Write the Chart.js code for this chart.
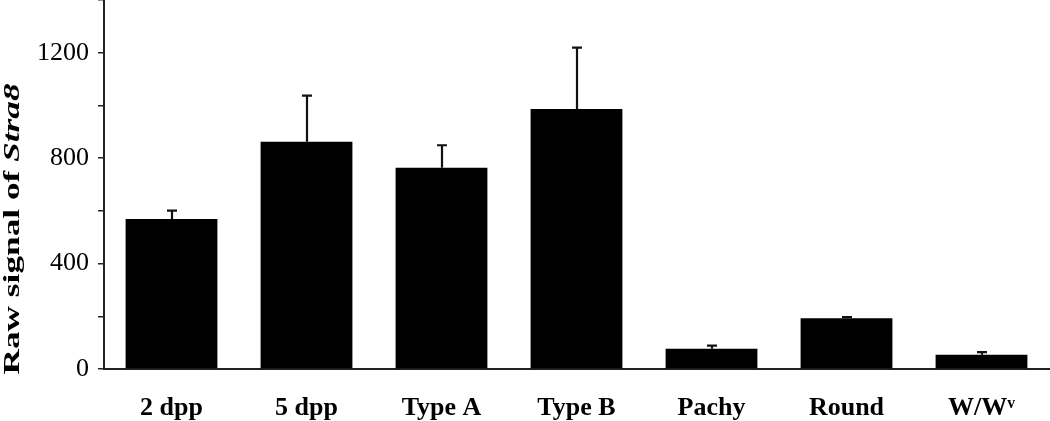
<!DOCTYPE html>
<html>
<head>
<meta charset="utf-8">
<script src="https://cdn.jsdelivr.net/npm/chart.js@4.4.1/dist/chart.umd.min.js"></script>
<style>
  html, body { margin: 0; padding: 0; background: #fff; }
  #wrap { width: 1050px; height: 421px; }
</style>
</head>
<body>
<div id="wrap"><canvas id="c" width="1050" height="421"></canvas></div>
<script>
const categories = ['2 dpp', '5 dpp', 'Type A', 'Type B', 'Pachy', 'Round', 'W/Wᵛ'];
const signalValues = [569, 862, 764, 986, 77, 193, 54];
const signalErrors = [32, 175, 85, 233, 12, 4, 10];
const yTickLabels = [0, 400, 800, 1200];
const yTitleMain = 'Raw signal of ';
const yTitleGene = 'Stra8';

const errorBarPlugin = {
  id: 'errorBars',
  afterDatasetsDraw(chart) {
    const ctx = chart.ctx;
    const meta = chart.getDatasetMeta(0);
    const ys = chart.scales.y;
    ctx.save();
    ctx.strokeStyle = '#111';
    ctx.lineWidth = 2.2;
    meta.data.forEach((bar, i) => {
      const top = ys.getPixelForValue(signalValues[i] + signalErrors[i]);
      const x = Math.round(bar.x);
      ctx.beginPath();
      ctx.moveTo(x, bar.y);
      ctx.lineTo(x, top);
      ctx.moveTo(x - 5, top);
      ctx.lineTo(x + 5, top);
      ctx.stroke();
    });
    ctx.restore();
  }
};

const yTitlePlugin = {
  id: 'yTitle',
  afterDraw(chart) {
    const ctx = chart.ctx;
    ctx.save();
    ctx.translate(13, 229);
    ctx.rotate(-Math.PI / 2);
    ctx.scale(1.47, 1);
    const f1 = 'bold 24px "Liberation Serif", "Times New Roman", serif';
    const f2 = 'italic bold 24px "Liberation Serif", "Times New Roman", serif';
    ctx.font = f1;
    const w1 = ctx.measureText(yTitleMain).width;
    ctx.font = f2;
    const w2 = ctx.measureText(yTitleGene).width;
    const start = -(w1 + w2) / 2;
    ctx.fillStyle = '#000';
    ctx.textBaseline = 'middle';
    ctx.textAlign = 'left';
    ctx.font = f1;
    ctx.fillText(yTitleMain, start, 0);
    ctx.font = f2;
    ctx.fillText(yTitleGene, start + w1, 0);
    ctx.restore();
  }
};

new Chart(document.getElementById('c'), {
  type: 'bar',
  data: {
    labels: categories,
    datasets: [{
      data: signalValues,
      backgroundColor: '#000',
      borderWidth: 0,
      barPercentage: 0.68,
      categoryPercentage: 1.0
    }]
  },
  options: {
    responsive: false,
    animation: false,
    devicePixelRatio: 1,
    layout: { padding: { left: 0, right: 1, top: 0, bottom: 0 } },
    plugins: { legend: { display: false }, tooltip: { enabled: false }, title: { display: false } },
    scales: {
      x: {
        grid: { display: false, drawTicks: false },
        border: { display: true, color: '#222', width: 2 },
        ticks: {
          color: '#000',
          padding: 24,
          font: { family: '"Liberation Serif", "Times New Roman", serif', size: 26, weight: 'bold' },
          maxRotation: 0, autoSkip: false
        },
        afterFit(scale) { scale.height = 52; scale.paddingLeft = 0; scale.paddingRight = 0; }
      },
      y: {
        min: 0, max: 1400,
        grid: { drawOnChartArea: false, drawTicks: true, tickLength: 6, color: '#222', lineWidth: 1.5 },
        border: { display: true, color: '#222', width: 2 },
        ticks: {
          stepSize: 200,
          autoSkip: false,
          color: '#000',
          padding: 9,
          font: { family: '"Liberation Serif", "Times New Roman", serif', size: 26 },
          callback: (v) => yTickLabels.includes(v) ? String(v) : ''
        },
        afterFit(scale) { scale.width = 104; scale.paddingTop = 0; scale.paddingBottom = 0; }
      }
    }
  },
  plugins: [errorBarPlugin, yTitlePlugin]
});
</script>
</body>
</html>
